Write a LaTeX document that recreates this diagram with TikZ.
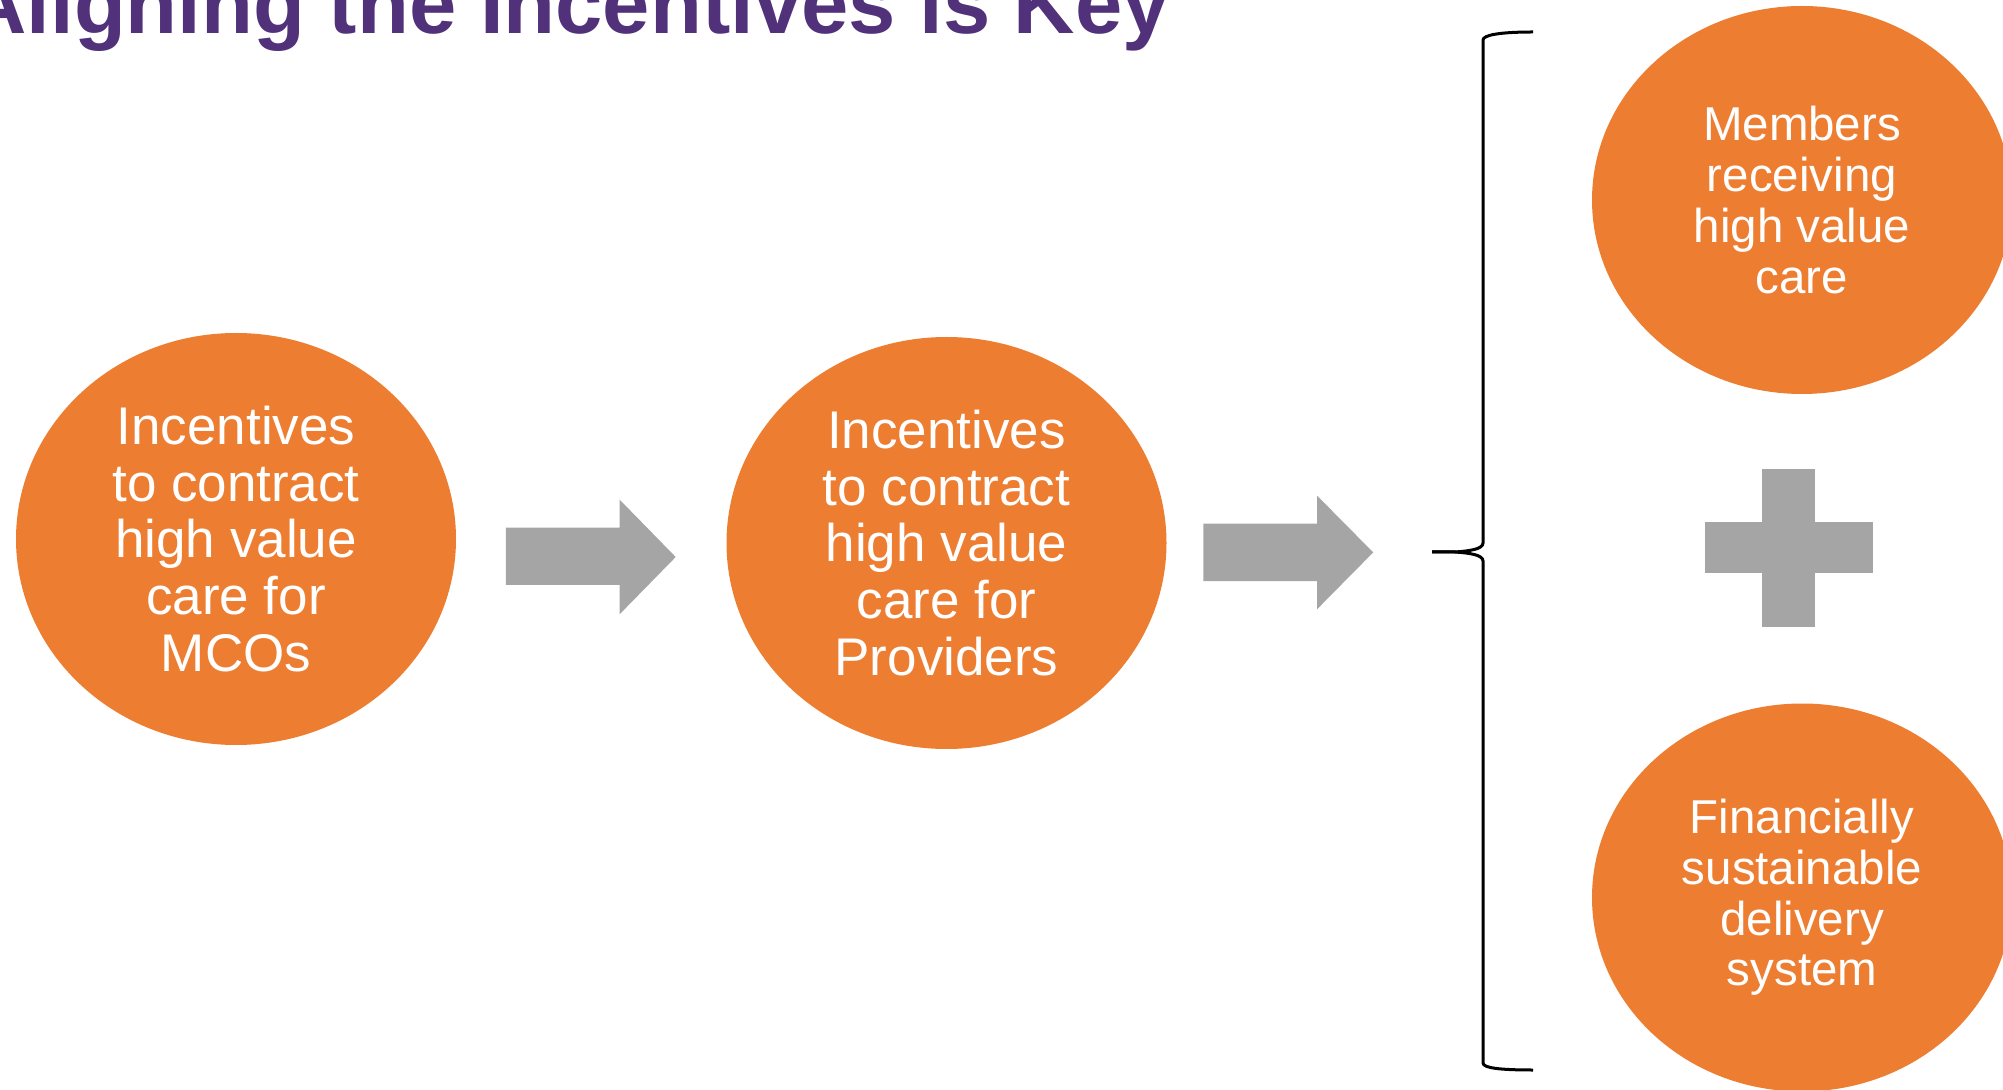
\documentclass[tikz,border=0pt]{standalone}
\usepackage{fontspec}
\setmainfont{Liberation Sans}
\usetikzlibrary{shapes.geometric}
\definecolor{orng}{HTML}{ED7D31}
\definecolor{gry}{HTML}{A5A5A5}
\definecolor{purp}{RGB}{80,49,122}
\begin{document}
\begin{tikzpicture}[x=0.5pt,y=-0.5pt,
  bubble/.style={ellipse, fill=orng, inner sep=0pt, text=white, align=center,
    minimum width=220pt, minimum height=206pt, font=\fontsize{26.5}{28.4}\selectfont},
  smallbubble/.style={bubble, minimum width=210pt, minimum height=194pt,
    font=\fontsize{23.75}{25.35}\selectfont},
  blockarrow/.style={fill=gry},
  plusbar/.style={fill=gry},
  bracestyle/.style={draw=black, line width=1.5pt}]
\useasboundingbox (0,0) rectangle (2003,1090);
\clip (0,0) rectangle (2003,1090);

% title
\node[anchor=base west, inner sep=0pt, text=purp,
  font=\fontsize{42.5}{48}\selectfont\bfseries] (title) at (-35,34) {Aligning the Incentives is Key};

% bubbles
\node[bubble] (mco) at (236,539) {Incentives\\to contract\\high value\\care for\\MCOs};
\node[bubble] (prov) at (946.5,543) {Incentives\\to contract\\high value\\care for\\Providers};
\node[smallbubble] (members) at (1802,200) {Members\\receiving\\high value\\care};
\node[smallbubble] (fin) at (1802,897.5) {Financially\\sustainable\\delivery\\system};

% block arrows
\fill[blockarrow] (505.8,527.6) -- (619.5,527.6) -- (619.5,499.5) -- (675.7,557) -- (619.5,614.4) -- (619.5,585) -- (505.8,585) -- cycle;
\fill[blockarrow] (1203.3,523.7) -- (1317,523.7) -- (1317,495.6) -- (1373.2,552.4) -- (1317,609.3) -- (1317,581.2) -- (1203.3,581.2) -- cycle;

% brace
\draw[bracestyle] (1533,32) .. controls (1500,32) and (1483,35) .. (1483,40)
  -- (1483,543) .. controls (1483,549) and (1470,551) .. (1455,552) -- (1432,552);
\draw[bracestyle] (1432,552) -- (1455,552) .. controls (1470,553) and (1483,555) .. (1483,561)
  -- (1483,1063) .. controls (1483,1068) and (1500,1070) .. (1533,1070);

% plus sign
\fill[plusbar] (1761.5,469) rectangle (1815,627);
\fill[plusbar] (1705,522.5) rectangle (1873,573.5);
\end{tikzpicture}
\end{document}
